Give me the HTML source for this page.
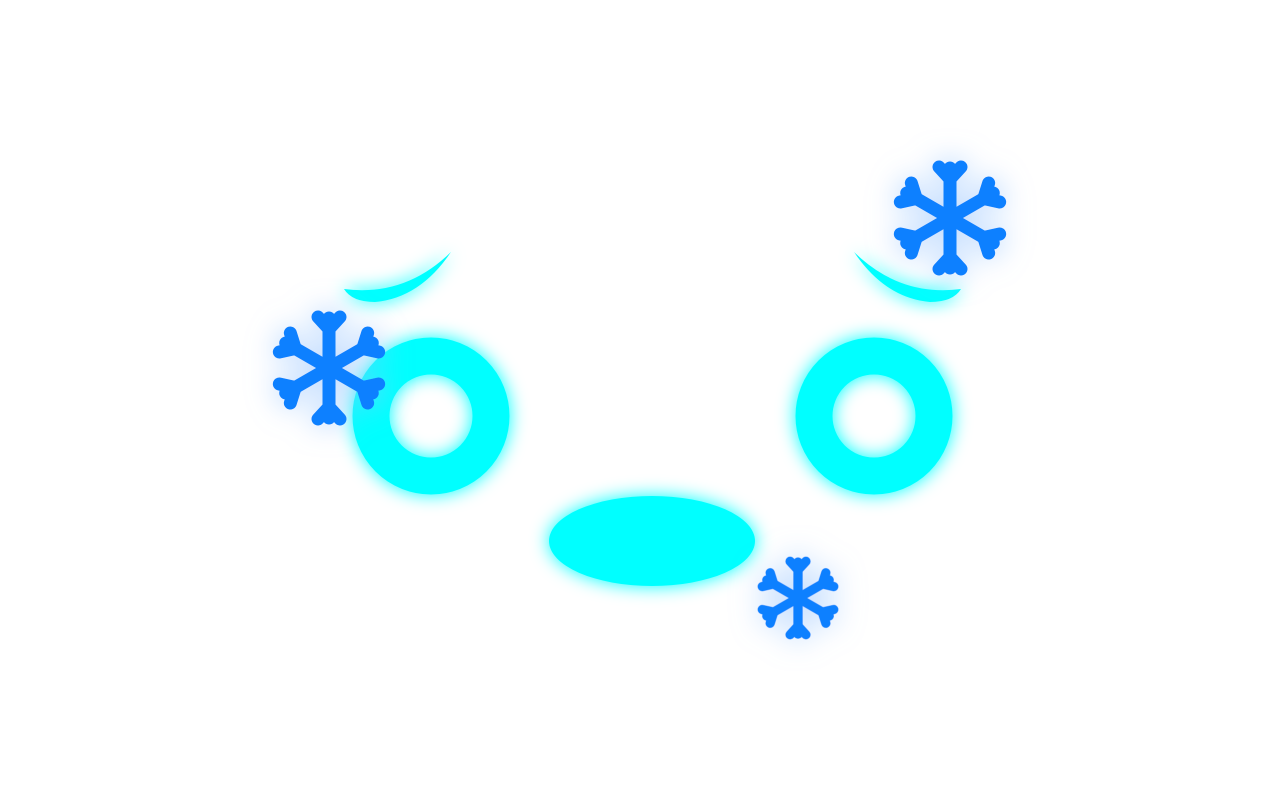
<!DOCTYPE html>
<html><head><meta charset="utf-8"><style>
html,body{margin:0;padding:0;background:#fff;width:1280px;height:800px;overflow:hidden}
</style></head><body>
<svg width="1280" height="800" viewBox="0 0 1280 800">
<defs>
<filter id="glowC" x="-50%" y="-50%" width="200%" height="200%"><feGaussianBlur in="SourceGraphic" stdDeviation="9" result="b"/><feMerge><feMergeNode in="b"/><feMergeNode in="SourceGraphic"/></feMerge></filter>
<filter id="glowB" x="-60%" y="-60%" width="220%" height="220%"><feGaussianBlur in="SourceGraphic" stdDeviation="14" result="b"/><feColorMatrix in="b" type="matrix" values="0 0 0 0 0.3  0 0 0 0 0.55  0 0 0 0 1  0 0 0 0.7 0" result="c"/><feMerge><feMergeNode in="c"/><feMergeNode in="SourceGraphic"/></feMerge></filter>
<g id="arm" stroke="#0f80ff" stroke-width="13" stroke-linecap="round" stroke-linejoin="round" fill="none">
<line x1="0" y1="0" x2="0" y2="-50"/>
<polyline points="-11,-51 0,-39 11,-51"/>
</g>
<g id="flake">
<use href="#arm"/><use href="#arm" transform="rotate(60)"/><use href="#arm" transform="rotate(120)"/>
<use href="#arm" transform="rotate(180)"/><use href="#arm" transform="rotate(240)"/><use href="#arm" transform="rotate(300)"/>
</g>
</defs>
<g fill="#00ffff" filter="url(#glowC)">
<path d="M344,289 Q405,297 451,252 Q420,298 375,302 Q352,302 344,289 Z"/>
<path d="M961,289 Q900,297 854,252 Q885,298 930,302 Q953,302 961,289 Z"/>
<circle cx="431" cy="416" r="60" fill="none" stroke="#00ffff" stroke-width="37"/>
<circle cx="874" cy="416" r="60" fill="none" stroke="#00ffff" stroke-width="37"/>
<ellipse cx="652" cy="541" rx="103" ry="45"/>
</g>
<g filter="url(#glowB)">
<use href="#flake" transform="translate(329,368)"/>
<use href="#flake" transform="translate(950,218)"/>
<use href="#flake" transform="translate(798,598) scale(0.72)"/>
</g>
</svg>
</body></html>
